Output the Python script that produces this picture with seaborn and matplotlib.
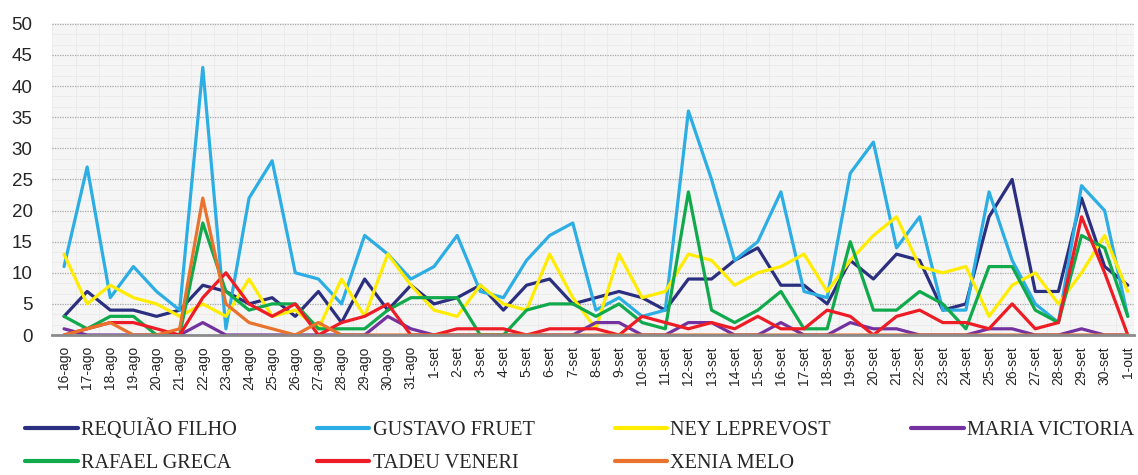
import numpy as np
import pandas as pd
import matplotlib
matplotlib.use("Agg")
import matplotlib.pyplot as plt
from matplotlib.ticker import MultipleLocator
import seaborn as sns

# ============ DATA =============
dates = ([f"{d}-ago" for d in range(16, 32)]
         + [f"{d}-set" for d in range(1, 31)]
         + ["1-out"])

requiao = [3, 7, 4, 4, 3, 4, 8, 7, 5, 6, 3, 7, 2, 9, 4, 8, 5, 6, 8, 4, 8, 9, 5, 6,
           7, 6, 4, 9, 9, 12, 14, 8, 8, 5, 12, 9, 13, 12, 4, 5, 19, 25, 7, 7, 22, 11, 8]
fruet = [11, 27, 6, 11, 7, 4, 43, 1, 22, 28, 10, 9, 5, 16, 13, 9, 11, 16, 7, 6, 12, 16,
         18, 4, 6, 3, 4, 36, 25, 12, 15, 23, 7, 6, 26, 31, 14, 19, 4, 4, 23, 12, 5, 2,
         24, 20, 3]
ney = [13, 5, 8, 6, 5, 3, 5, 3, 9, 3, 4, 1, 9, 3, 13, 8, 4, 3, 8, 5, 4, 13, 6, 1, 13,
       6, 7, 13, 12, 8, 10, 11, 13, 7, 12, 16, 19, 11, 10, 11, 3, 8, 10, 5, 10, 16, 7]
maria = [1, 0, 0, 0, 0, 0, 2, 0, 0, 0, 0, 0, 0, 0, 3, 1, 0, 0, 0, 0, 0, 0, 0, 2, 2, 0,
         0, 2, 2, 0, 0, 2, 0, 0, 2, 1, 1, 0, 0, 0, 1, 1, 0, 0, 1, 0, 0]
greca = [3, 1, 3, 3, 0, 0, 18, 7, 4, 5, 5, 1, 1, 1, 4, 6, 6, 6, 0, 0, 4, 5, 5, 3, 5, 2,
         1, 23, 4, 2, 4, 7, 1, 1, 15, 4, 4, 7, 5, 1, 11, 11, 4, 2, 16, 14, 3]
veneri = [0, 1, 2, 2, 1, 0, 6, 10, 5, 3, 5, 0, 2, 3, 5, 0, 0, 1, 1, 1, 0, 1, 1, 1, 0, 3,
          2, 1, 2, 1, 3, 1, 1, 4, 3, 0, 3, 4, 2, 2, 1, 5, 1, 2, 19, 10, 0]
xenia = [0, 1, 2, 0, 0, 1, 22, 5, 2, 1, 0, 2, 0, 0, 0, 0, 0, 0, 0, 0, 0, 0, 0, 0, 0, 0,
         0, 0, 0, 0, 0, 0, 0, 0, 0, 0, 0, 0, 0, 0, 0, 0, 0, 0, 0, 0, 0]

names = ["REQUIÃO FILHO", "GUSTAVO FRUET", "NEY LEPREVOST", "MARIA VICTORIA",
         "RAFAEL GRECA", "TADEU VENERI", "XENIA MELO"]
series = [requiao, fruet, ney, maria, greca, veneri, xenia]
colors = ["#2B2F7F", "#2CAEE4", "#FFEC00", "#7332A0", "#10AA4C", "#EE1D25", "#E9722C"]
# ==================================

rows = []
for name, vals in zip(names, series):
    for i, v in enumerate(vals):
        rows.append({"idx": i, "value": v, "name": name})
df = pd.DataFrame(rows)

sns.set_style("white")
plt.rcParams["font.family"] = ["Liberation Sans", "DejaVu Sans"]

fig = plt.figure(figsize=(11.38, 4.75), dpi=100)
ax = fig.add_axes([0.0457, 0.2947, 0.9508, 0.657])
ax.set_facecolor("#F5F5F5")

sns.lineplot(data=df, x="idx", y="value", hue="name", hue_order=names,
             palette=dict(zip(names, colors)), linewidth=2.3, ax=ax, legend=False)

ax.set_xlim(-0.52, 46.27)
ax.set_ylim(0, 50.15)
ax.set_xticks(range(len(dates)))
ax.set_xticklabels(dates, rotation=90, fontsize=10)
ax.set_yticks(range(0, 51, 5))
ax.tick_params(axis="y", labelsize=13.5, length=0, pad=14)
ax.tick_params(axis="x", length=0, pad=8)
ax.set_xlabel("")
ax.set_ylabel("")

# faint background texture + dotted major gridlines
ax.xaxis.set_minor_locator(MultipleLocator(0.5))
ax.yaxis.set_minor_locator(MultipleLocator(5 / 3))
ax.tick_params(which="minor", length=0)
ax.grid(which="minor", color="#EAEAEA", linewidth=0.6)
ax.grid(which="major", axis="x", visible=False)
ax.grid(which="major", axis="y", color="#A8A8A8", linestyle=(0, (1, 1)), linewidth=0.9)
ax.set_axisbelow(True)

for s in ["top", "right", "left"]:
    ax.spines[s].set_visible(False)
ax.spines["bottom"].set_color("#8A8A8A")
ax.spines["bottom"].set_linewidth(2)

# legend: column-wise fill so rows read left to right
handles = [plt.Line2D([], [], color=c, linewidth=3) for c in colors]
order = [0, 4, 1, 5, 2, 6, 3]
fig.legend([handles[i] for i in order], [names[i] for i in order],
           loc="upper left", bbox_to_anchor=(0.022, 0.118), ncol=4,
           frameon=False, prop={"family": "Liberation Serif", "size": 14.6},
           handlelength=2.6, handletextpad=0.15, columnspacing=3.95,
           labelspacing=0.7, borderpad=0, borderaxespad=0)

fig.savefig("out.png", dpi=100)
